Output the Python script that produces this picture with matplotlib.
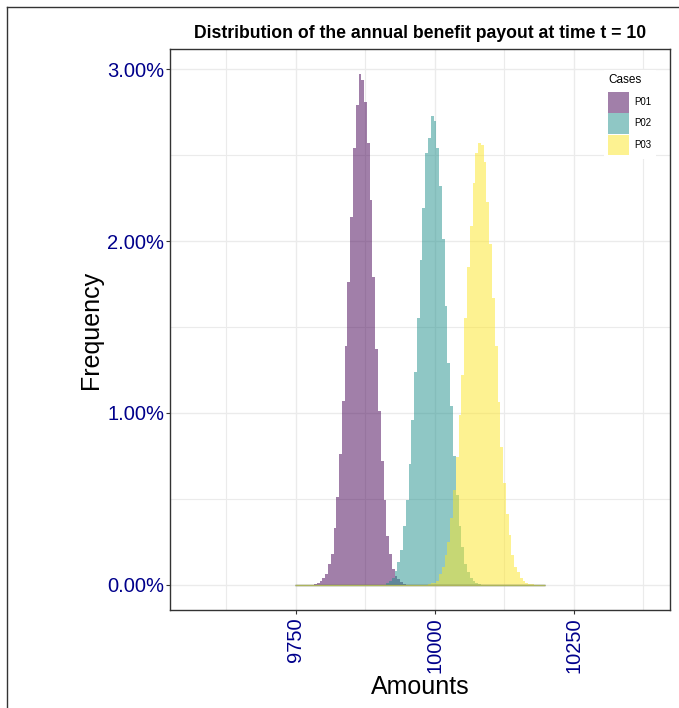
import matplotlib
matplotlib.use("Agg")
import matplotlib.pyplot as plt
import numpy as np
from matplotlib.lines import Line2D
from matplotlib.patches import Patch
from matplotlib.ticker import FuncFormatter, MultipleLocator

plt.rcParams['font.family'] = ['Liberation Sans', 'DejaVu Sans']

BIN_WIDTH = 5
first_bin, last_bin = 9750, 10195   # centres of the outer (empty) bins

cases = ['P01', 'P02', 'P03']
case_colors = ['#440154', '#21908C', '#FDE725']

# frequencies in %, one value per 5-unit bin, starting at *_start
p01_start = 9785
p01_freq = [0.005, 0.01, 0.02, 0.04, 0.06, 0.12, 0.18, 0.33, 0.51, 0.76,
            1.07, 1.39, 1.76, 2.14, 2.54, 2.79, 2.97, 2.94, 2.81, 2.57,
            2.24, 1.79, 1.37, 1.01, 0.72, 0.49, 0.28, 0.18, 0.09, 0.05,
            0.03, 0.015, 0.005]

p02_start = 9915
p02_freq = [0.01, 0.02, 0.04, 0.08, 0.13, 0.20, 0.34, 0.49, 0.70, 0.96,
            1.24, 1.55, 1.89, 2.19, 2.51, 2.60, 2.73, 2.70, 2.54, 2.32,
            2.01, 1.62, 1.29, 1.04, 0.75, 0.52, 0.34, 0.22, 0.12, 0.07,
            0.04, 0.02, 0.01, 0.005]

p03_start = 9990
p03_freq = [0.005, 0.01, 0.01, 0.02, 0.06, 0.10, 0.17, 0.25, 0.39, 0.55,
            0.74, 0.99, 1.22, 1.55, 1.85, 2.09, 2.34, 2.51, 2.57, 2.56,
            2.46, 2.23, 1.98, 1.67, 1.39, 1.06, 0.80, 0.59, 0.41, 0.29,
            0.17, 0.10, 0.07, 0.035, 0.02, 0.01, 0.005, 0.005]

series = [(p01_start, p01_freq), (p02_start, p02_freq), (p03_start, p03_freq)]

centres = np.arange(first_bin, last_bin + BIN_WIDTH, BIN_WIDTH)

fig = plt.figure(figsize=(6.79, 7.08), dpi=100)
ax = fig.add_axes([170 / 679, 1 - 610 / 708, 500 / 679, 561 / 708])

for (start, freq), col in zip(series, case_colors):
    heights = np.zeros(len(centres))
    i0 = (start - first_bin) // BIN_WIDTH
    heights[i0:i0 + len(freq)] = freq
    ax.bar(centres, heights, width=BIN_WIDTH, color=col, alpha=0.5, linewidth=0, zorder=2)
    # empty bins still leave a flat line on the baseline
    ax.hlines(0, centres[0] - BIN_WIDTH / 2, centres[-1] + BIN_WIDTH / 2,
              color=col, alpha=0.5, lw=1, zorder=3)

ax.set_xlim(9523.4, 10422.7)
ax.set_ylim(-0.1485, 3.1185)

ax.xaxis.set_major_locator(MultipleLocator(250))
ax.xaxis.set_minor_locator(MultipleLocator(125))
ax.yaxis.set_major_locator(MultipleLocator(1))
ax.yaxis.set_minor_locator(MultipleLocator(0.5))
ax.yaxis.set_major_formatter(FuncFormatter(lambda v, p: f"{v:.2f}%"))

ax.grid(which='major', color='#ebebeb', lw=1.0)
ax.grid(which='minor', color='#ebebeb', lw=0.8)
ax.set_axisbelow(True)

ax.tick_params(which='major', length=3, width=0.8, color='#333333',
               labelcolor='#00008B', labelsize=14.5, pad=2)
ax.tick_params(axis='y', pad=1)
ax.tick_params(which='minor', length=0)
ax.tick_params(axis='x', labelrotation=90)

for sp in ax.spines.values():
    sp.set_color('#333333')
    sp.set_linewidth(1.0)

ax.set_xlabel('Amounts', fontsize=18, labelpad=2)
ax.set_ylabel('Frequency', fontsize=18, labelpad=3)
ax.set_title('Distribution of the annual benefit payout at time t = 10',
             fontsize=12.7, fontweight='bold', pad=8)

handles = [Patch(facecolor=c, alpha=0.5, linewidth=0) for c in case_colors]
leg = ax.legend(handles, cases, title='Cases', loc='upper left',
                bbox_to_anchor=(604 / 679, 1 - 70 / 708), bbox_transform=fig.transFigure,
                fontsize=7, title_fontsize=8.5, frameon=True, framealpha=1,
                facecolor='white', edgecolor='none', fancybox=False,
                handlelength=2.16, handleheight=2.88, labelspacing=0.074,
                handletextpad=0.55, borderpad=0.45, borderaxespad=0, alignment='left')
leg._legend_box.sep = 4.0   # a bit more room under the "Cases" title

# outer frame (only top and left edges visible)
fig.add_artist(Line2D([7 / 679, 1], [1 - 7 / 708, 1 - 7 / 708], transform=fig.transFigure,
                      color='#333333', lw=1))
fig.add_artist(Line2D([7 / 679, 7 / 679], [0, 1 - 7 / 708], transform=fig.transFigure,
                      color='#333333', lw=1))

fig.savefig('out.png', dpi=100)
